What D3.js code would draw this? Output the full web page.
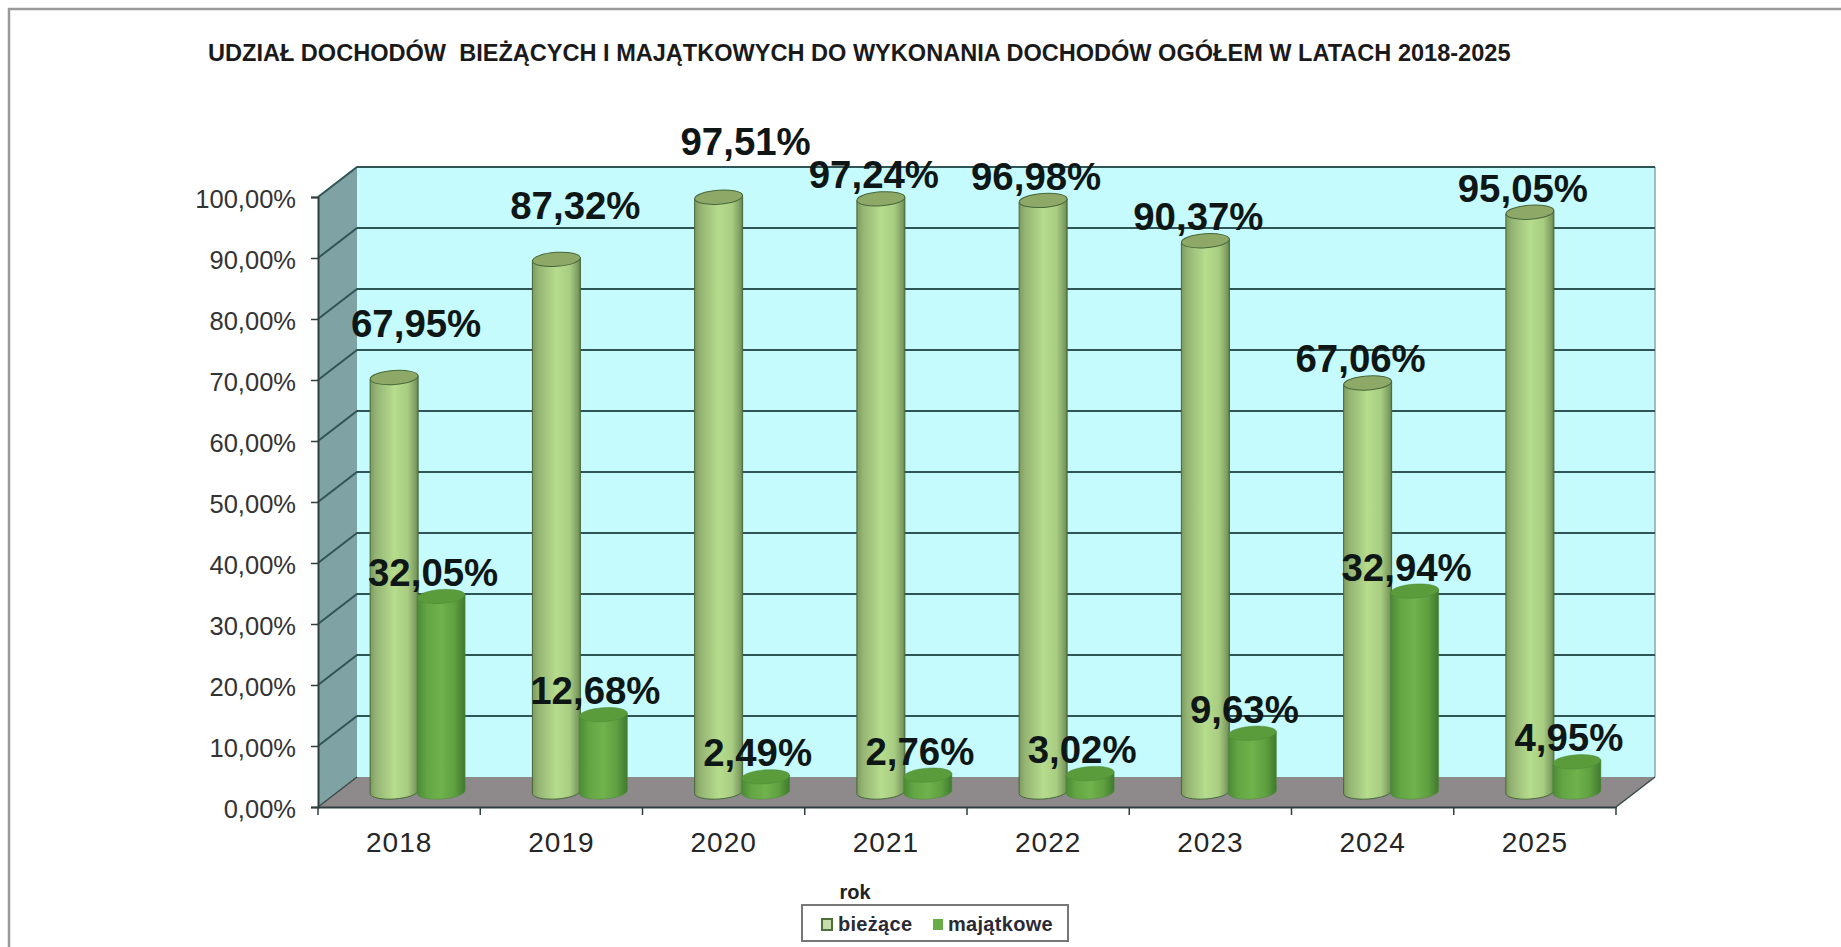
<!DOCTYPE html>
<html><head><meta charset="utf-8">
<script src="https://cdn.jsdelivr.net/npm/d3@7"></script>
<style>html,body{margin:0;padding:0;background:#fff}svg{display:block}</style>
</head><body><svg id="c" width="1841" height="947"></svg>
<script>
const years = ["2018","2019","2020","2021","2022","2023","2024","2025"];
const biezace = [67.95,87.32,97.51,97.24,96.98,90.37,67.06,95.05];
const majatkowe = [32.05,12.68,2.49,2.76,3.02,9.63,32.94,4.95];
const yTicks = [0,10,20,30,40,50,60,70,80,90,100];
const seriesNames = ["bieżące","majątkowe"];
const titleText = "UDZIAŁ DOCHODÓW  BIEŻĄCYCH I MAJĄTKOWYCH DO WYKONANIA DOCHODÓW OGÓŁEM W LATACH 2018-2025";
const axisTitle = "rok";

const font = '"Liberation Sans", Arial, sans-serif';
const fmt = v => v.toFixed(2).replace(".", ",") + "%";
const svg = d3.select("#c");
const defs = svg.append("defs");

// frame
const F = {x0:318, x1:1616, y0:807, y1:197, dx:39, dy:-30};
const x = d3.scaleBand().domain(years).range([F.x0,F.x1]);
const y = d3.scaleLinear().domain([0,100]).range([F.y0,F.y1]);
const baseY = v => y(v) - 15;        // mid-depth plane
const barW = 48, ry = 7;

function grad(id, stops){
  const g = defs.append("linearGradient").attr("id",id);
  stops.forEach(([o,c])=>g.append("stop").attr("offset",o).attr("stop-color",c));
}
grad("light",[[0,"#7c9a5c"],[.12,"#94b474"],[.5,"#b6dc8d"],[.78,"#a8cd82"],[.95,"#7d9c60"],[1,"#5f7f48"]]);
grad("dark",[[0,"#4c8a36"],[.2,"#62a543"],[.5,"#70b24c"],[.78,"#5f9f40"],[1,"#3f7a2e"]]);

svg.append("path").attr("d",d3.line()([[9,947],[9,9],[1841,9]]))
  .attr("fill","none").attr("stroke","#9a9a9a").attr("stroke-width",2.5);

// walls
const line = d3.line();
const poly = (pts,fill)=>svg.append("path").attr("d",line(pts)+"Z").attr("fill",fill);
poly([[F.x0+F.dx,F.y1+F.dy],[F.x1+F.dx,F.y1+F.dy],[F.x1+F.dx,F.y0+F.dy],[F.x0+F.dx,F.y0+F.dy]],"#c6fbfd");
poly([[F.x0,F.y1],[F.x0+F.dx,F.y1+F.dy],[F.x0+F.dx,F.y0+F.dy],[F.x0,F.y0]],"#7fa3a4");
poly([[F.x0,F.y0],[F.x0+F.dx,F.y0+F.dy],[F.x1+F.dx,F.y0+F.dy],[F.x1,F.y0]],"#8e8a8c");
svg.append("line").attr("x1",F.x1+F.dx).attr("x2",F.x1+F.dx).attr("y1",F.y1+F.dy).attr("y2",F.y0+F.dy).attr("stroke","#8aa6a8").attr("stroke-width",1.5);

// gridlines
yTicks.forEach(t=>{
  if(t>0) svg.append("path").attr("d",line([[F.x0,y(t)],[F.x0+F.dx,y(t)+F.dy],[F.x1+F.dx,y(t)+F.dy]]))
    .attr("fill","none").attr("stroke","#2f5557").attr("stroke-width",2);
});
svg.append("line").attr("x1",F.x1).attr("x2",F.x1+F.dx).attr("y1",F.y0).attr("y2",F.y0+F.dy).attr("stroke","#3a4a4a").attr("stroke-width",1.5);
svg.append("line").attr("x1",F.x0).attr("x2",F.x0+F.dx).attr("y1",F.y0).attr("y2",F.y0+F.dy).attr("stroke","#3a4a4a").attr("stroke-width",1.5);

// axes
const ya = d3.axisLeft(y).tickValues(yTicks).tickSize(7).tickPadding(15).tickFormat(fmt);
const gy = svg.append("g").attr("transform",`translate(${F.x0},0)`).call(ya);
const xa = d3.axisBottom(x).tickSize(0).tickPadding(25);
const gx = svg.append("g").attr("transform",`translate(0,${F.y0})`).call(xa);
[gy,gx].forEach(g=>{
  g.selectAll("path.domain").attr("stroke","#2f3f3f").attr("stroke-width",2);
  g.selectAll("line").attr("stroke","#2f3f3f").attr("stroke-width",1.5);
  g.selectAll("text").attr("font-family",font).attr("fill","#262626");
});
gy.selectAll("text").attr("font-size",25.5).attr("fill","#333").attr("dy","0.4em");
gx.selectAll("text").attr("font-size",28).attr("letter-spacing",1).attr("dx",0);
// boundary ticks for the category axis
gx.selectAll("line.bt").data(d3.range(years.length+1)).join("line").attr("class","bt")
  .attr("x1",i=>F.x0+i*x.step()).attr("x2",i=>F.x0+i*x.step()).attr("y1",0).attr("y2",8)
  .attr("stroke","#2f3f3f").attr("stroke-width",1.5);

// cylinders
function cyl(cx, v, fill, topFill, stroke, sw){
  const top = baseY(v), bot = baseY(0), rx = barW/2, t = 1.7;
  const g = svg.append("g").attr("class","bar");
  g.append("path")
    .attr("d",`M${cx-rx},${top+t}L${cx-rx},${bot+t}A${rx},${ry} -4 0 0 ${cx+rx},${bot-t}L${cx+rx},${top-t}Z`)
    .attr("fill",`url(#${fill})`).attr("stroke",stroke).attr("stroke-width",sw);
  g.append("ellipse").attr("cx",cx).attr("cy",top).attr("rx",rx).attr("ry",ry)
    .attr("transform",`rotate(-4 ${cx} ${top})`)
    .attr("fill",topFill).attr("stroke",stroke).attr("stroke-width",sw);
}
const lightC = d => x(d)+x.step()/2 - 5;
const darkC  = d => x(d)+x.step()/2 + 42;
years.forEach((d,i)=>{
  cyl(lightC(d),biezace[i],"light","#8ea868","#47663a",1);
  cyl(darkC(d),majatkowe[i],"dark","#5a9c3b","#4c8a36",.5);
});

// data labels
const lightOff = [-7,-24], darkOff = [-8,-24];
const lightOverride = {"2018":[22,-54],"2019":[19,-54],"2020":[27,-56]};
function lab(cx,v,off){
  svg.append("text").attr("x",cx+off[0]).attr("y",baseY(v)+off[1]).attr("dy","0.35em")
    .attr("text-anchor","middle").attr("font-family",font).attr("font-weight","bold")
    .attr("font-size",38.4).attr("fill","#0f1616").text(fmt(v));
}
years.forEach((d,i)=>{
  lab(lightC(d),biezace[i],lightOverride[d]||lightOff);
  lab(darkC(d),majatkowe[i],darkOff);
});

// title
svg.append("text").attr("x",208).attr("y",61).attr("font-family",font).attr("font-weight","bold")
  .attr("font-size",23.55).attr("fill","#1a1a1a").style("white-space","pre").text(titleText);

// legend
svg.append("text").attr("x",855).attr("y",899).attr("text-anchor","middle").attr("font-family",font)
  .attr("font-weight","bold").attr("font-size",20).attr("fill","#222").text(axisTitle);
svg.append("rect").attr("x",802).attr("y",905).attr("width",266).attr("height",36)
  .attr("fill","#fff").attr("stroke","#777").attr("stroke-width",2);
svg.append("rect").attr("x",822).attr("y",919).attr("width",10).attr("height",11).attr("fill","#c9dcae").attr("stroke","#4f6f3a").attr("stroke-width",2);
svg.append("rect").attr("x",933).attr("y",919).attr("width",10).attr("height",11).attr("fill","#6aad48");
[[838,seriesNames[0]],[948,seriesNames[1]]].forEach(([px,t])=>
  svg.append("text").attr("x",px).attr("y",931).attr("font-family",font).attr("font-weight","bold")
    .attr("font-size",20).attr("letter-spacing",.3).attr("fill","#2a2a35").text(t));
</script></body></html>
